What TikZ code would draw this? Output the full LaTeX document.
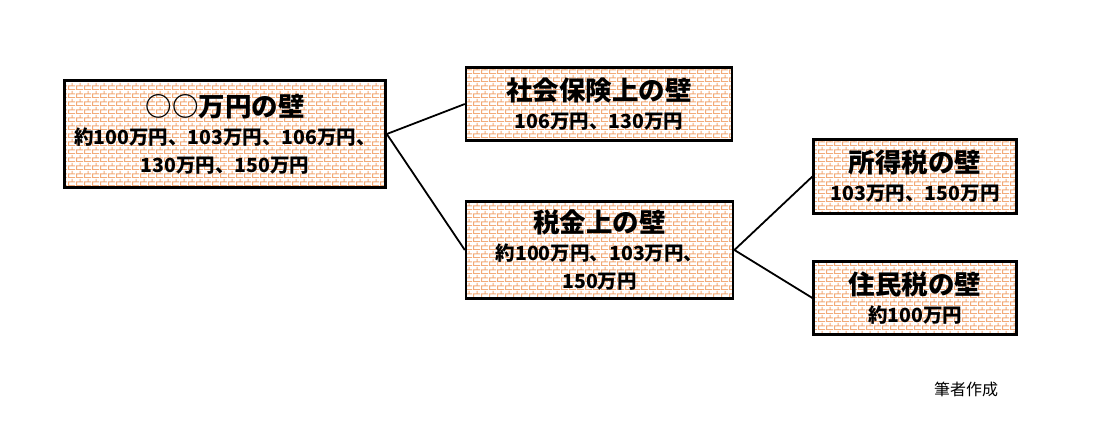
\documentclass[tikz,border=0pt]{standalone}
\usepackage{fontspec}
\newfontfamily\jp{Noto Sans CJK JP}
\usetikzlibrary{positioning,patterns}
\definecolor{brickline}{HTML}{F2AA78}

% brick wall fill
\pgfdeclarepatternformonly{wallbricks}{\pgfpoint{0pt}{0pt}}{\pgfpoint{7.5pt}{8pt}}{\pgfpoint{7.5pt}{8pt}}{
  \pgfsetlinewidth{1.1pt}
  \pgfpathmoveto{\pgfpoint{0pt}{0.5pt}}\pgfpathlineto{\pgfpoint{7.5pt}{0.5pt}}
  \pgfpathmoveto{\pgfpoint{0pt}{4.5pt}}\pgfpathlineto{\pgfpoint{7.5pt}{4.5pt}}
  \pgfpathmoveto{\pgfpoint{0.6pt}{0.5pt}}\pgfpathlineto{\pgfpoint{0.6pt}{4.5pt}}
  \pgfpathmoveto{\pgfpoint{4.35pt}{4.5pt}}\pgfpathlineto{\pgfpoint{4.35pt}{8pt}}
  \pgfpathmoveto{\pgfpoint{4.35pt}{0pt}}\pgfpathlineto{\pgfpoint{4.35pt}{0.5pt}}
  \pgfusepath{stroke}}

\tikzset{
  wall/.style={draw, line width=2.6pt, pattern=wallbricks, pattern color=brickline,
    align=center, inner sep=0pt, font=\jp\bfseries\fontsize{19.5}{28}\selectfont},
  link/.style={draw, line width=1.8pt}
}
\newcommand{\walltitle}[1]{{\fontsize{26.5}{30}\selectfont #1}}

\begin{document}
\begin{tikzpicture}[x=1pt, y=-1pt]
    \useasboundingbox (0,0) rectangle (1093,442);

    % Define nodes
    \node[wall, minimum width=321pt, minimum height=107pt] (total) at (225,134)
        {\walltitle{○○万円の壁}\\約100万円、103万円、106万円、\\130万円、150万円};
    \node[wall, minimum width=266pt, minimum height=73pt, right=78pt of total, yshift=30pt] (social)
        {\walltitle{社会保険上の壁}\\106万円、130万円};
    \node[wall, minimum width=267pt, minimum height=97pt, right=78pt of total, yshift=-116pt] (tax)
        {\walltitle{税金上の壁}\\約100万円、103万円、\\150万円};
    \node[wall, minimum width=203pt, minimum height=74pt, right=78pt of tax, yshift=73.5pt] (income)
        {\walltitle{所得税の壁}\\103万円、150万円};
    \node[wall, minimum width=203pt, minimum height=73pt, right=78pt of tax, yshift=-48pt] (resident)
        {\walltitle{住民税の壁}\\約100万円};
    \node[font=\jp\fontsize{16}{18}\selectfont] (source) at (966,389) {筆者作成};

    % Connect nodes
    \path[link] (total.east) -- (social.west);
    \path[link] (total.east) -- (tax.west);
    \path[link] (tax.east) -- (income.west);
    \path[link] (tax.east) -- (resident.west);
\end{tikzpicture}
\end{document}
